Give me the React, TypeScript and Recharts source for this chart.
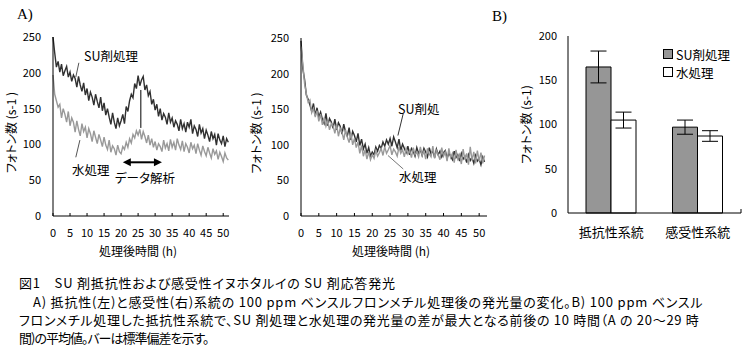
import React from 'react';
import { LineChart, Line, XAxis, YAxis, ReferenceLine, BarChart, Bar, ErrorBar } from 'recharts';

// ---- data ----
const STEP_HOURS = 0.5;
const timeTicks = [0, 5, 10, 15, 20, 25, 30, 35, 40, 45, 50];
const photonTicksA = [0, 50, 100, 150, 200, 250];
const photonTicksB = [0, 50, 100, 150, 200];

// resistant strain (left panel of A), photons per s, every 0.5 h
const resistantSU = [
  250, 228, 208, 216, 201, 212, 196, 203, 209, 194,
  201, 188, 197, 192, 180, 195, 183, 174, 186, 169,
  178, 161, 173, 166, 155, 170, 160, 151, 166, 147,
  158, 141, 150, 138, 128, 144, 131, 122, 137, 126,
  133, 142, 129, 153, 146, 161, 170, 165, 185, 178,
  196, 182, 190, 195, 176, 183, 168, 174, 156, 163,
  148, 156, 139, 150, 134, 143, 138, 128, 144, 131,
  137, 124, 133, 128, 119, 135, 122, 129, 117, 131,
  124, 135, 115, 126, 121, 111, 128, 116, 122, 108,
  120, 113, 104, 118, 108, 114, 99, 115, 106, 101,
  112, 97, 108, 103,
];
const resistantWater = [
  197, 170, 161, 152, 156, 137, 150, 142, 131, 146,
  126, 137, 131, 117, 133, 121, 112, 129, 118, 124,
  109, 122, 115, 104, 119, 110, 101, 114, 106, 97,
  110, 99, 93, 106, 89, 98, 94, 85, 99, 90,
  87, 97, 93, 103, 96, 108, 102, 114, 109, 119,
  113, 121, 107, 118, 111, 102, 113, 99, 108, 96,
  104, 92, 101, 97, 90, 106, 95, 101, 91, 107,
  96, 103, 92, 108, 99, 93, 105, 90, 101, 96,
  88, 103, 94, 99, 87, 101, 92, 85, 98, 90,
  84, 96, 88, 81, 94, 86, 91, 79, 89, 83,
  76, 88, 81, 78,
];
// susceptible strain (right panel of A)
const susceptibleSU = [
  246, 207, 192, 170, 164, 156, 147, 158, 141, 152,
  139, 146, 136, 130, 144, 127, 137, 132, 123, 136,
  121, 131, 126, 115, 129, 118, 112, 124, 107, 119,
  113, 104, 116, 99, 108, 94, 101, 88, 96, 84,
  90, 86, 97, 91, 99, 95, 104, 98, 107, 101,
  109, 98, 111, 104, 96, 108, 92, 101, 95, 89,
  98, 86, 95, 91, 84, 96, 88, 93, 85, 95,
  90, 83, 96, 87, 92, 82, 94, 86, 91, 83,
  89, 92, 81, 88, 84, 79, 91, 82, 86, 77,
  88, 80, 84, 75, 86, 78, 82, 74, 85, 77,
  80, 72, 83, 76,
];
const susceptibleWater = [
  238, 214, 186, 172, 160, 163, 145, 151, 139, 148,
  133, 143, 128, 138, 126, 134, 121, 130, 127, 116,
  129, 112, 123, 118, 107, 121, 111, 103, 116, 100,
  109, 96, 104, 88, 99, 84, 93, 80, 90, 79,
  86, 81, 92, 84, 89, 95, 85, 97, 88, 93,
  99, 86, 94, 90, 84, 97, 88, 93, 83, 95,
  87, 92, 82, 96, 86, 90, 83, 97, 85, 91,
  80, 95, 87, 83, 98, 81, 92, 86, 79, 96,
  84, 90, 77, 95, 82, 88, 75, 93, 80, 86,
  73, 94, 79, 88, 72, 97, 78, 90, 74, 92,
  77, 89, 74, 85,
];

// B) mean of 20-29 h
const strains = ['抵抗性系統', '感受性系統'];
const suMean = [165, 97];
const suSd = [18, 8];
const waterMean = [105, 87];
const waterSd = [9, 6];

const seriesA = ['SU剤処理', '水処理'];

// ---- build tables ----
const buildSeries = (su: number[], water: number[]) =>
  su.map((v, i) => ({ t: i * STEP_HOURS, su: v, water: water[i] }));
const leftData = buildSeries(resistantSU, resistantWater);
const rightData = buildSeries(susceptibleSU, susceptibleWater);
const barData = strains.map((name, i) => ({
  name,
  su: suMean[i],
  suErr: suSd[i],
  water: waterMean[i],
  waterErr: waterSd[i],
}));

// ---- styles ----
const FONT = '"Noto Sans CJK JP", "Noto Sans", sans-serif';
const PALT: React.CSSProperties = { fontFeatureSettings: '"palt"' };
const DARK = '#303030';
const LIGHT = '#999999';
const BAR_GRAY = '#969696';

const tickStyle = { fontSize: 11, fill: '#000', fontFamily: FONT };

const yTitle = (text: string, dx: number, dy: number) => ({
  content: (p: any) => {
    const vb = p.viewBox || {};
    const cx = (vb.x ?? 0) + dx;
    const cy = (vb.y ?? 0) + (vb.height ?? 0) / 2 + dy;
    return (
      <text
        x={cx}
        y={cy}
        transform={`rotate(-90 ${cx} ${cy})`}
        textAnchor="middle"
        dominantBaseline="central"
        style={{ fontSize: 12, fontFamily: FONT, fill: '#000', ...PALT }}
      >
        {text}
      </text>
    );
  },
});

const xTitle = (text: string, dy: number, dx: number) => ({
  content: (p: any) => {
    const vb = p.viewBox || {};
    const cx = (vb.x ?? 0) + (vb.width ?? 0) / 2 + dx;
    const cy = (vb.y ?? 0) + dy;
    return (
      <text
        x={cx}
        y={cy}
        textAnchor="middle"
        dominantBaseline="central"
        style={{ fontSize: 12, fontFamily: FONT, fill: '#000', ...PALT }}
      >
        {text}
      </text>
    );
  },
});

const DoubleArrow = (props: any) => {
  const { x1, y1, x2, y2 } = props;
  if (![x1, y1, x2, y2].every((v) => Number.isFinite(v))) return <g />;
  return (
    <g>
      <line x1={x1 + 6} y1={y1} x2={x2 - 6} y2={y2} stroke="#000" strokeWidth={2} />
      <polygon points={`${x1},${y1} ${x1 + 8},${y1 - 4} ${x1 + 8},${y1 + 4}`} fill="#000" />
      <polygon points={`${x2},${y2} ${x2 - 8},${y2 - 4} ${x2 - 8},${y2 + 4}`} fill="#000" />
    </g>
  );
};

const annoText: React.CSSProperties = {
  position: 'absolute',
  fontFamily: FONT,
  fontSize: 12.5,
  lineHeight: '14px',
  whiteSpace: 'nowrap',
  color: '#000',
  ...PALT,
};

const TimeChart = ({
  data,
  domainMax,
  width,
  yAxisWidth,
  rightMargin,
  top,
  boxed,
  suOnTop,
  titleDx,
  children,
}: any) => {
  const suLine = (
    <Line key="su" type="linear" dataKey="su" name={seriesA[0]} stroke={DARK} strokeWidth={1.4} dot={false} isAnimationActive={false} />
  );
  const waterLine = (
    <Line key="water" type="linear" dataKey="water" name={seriesA[1]} stroke={LIGHT} strokeWidth={1.4} dot={false} isAnimationActive={false} />
  );
  return (
    <LineChart width={width} height={262} data={data} margin={{ top, right: rightMargin, bottom: 6, left: 0 }}>
      <XAxis
        dataKey="t"
        type="number"
        domain={[0, domainMax]}
        ticks={timeTicks}
        interval={0}
        tickSize={-3}
        tickMargin={16}
        height={40}
        stroke="#000"
        tick={tickStyle}
        label={xTitle('処理後時間 (h)', 34, -3)}
      />
      {boxed && (
        <XAxis
          xAxisId="top"
          orientation="top"
          dataKey="t"
          type="number"
          domain={[0, domainMax]}
          tick={false}
          tickLine={false}
          height={0}
          stroke="#808080"
        />
      )}
      <YAxis
        domain={[0, 250]}
        ticks={photonTicksA}
        interval={0}
        tickLine={false}
        tickSize={0}
        tickMargin={12}
        width={yAxisWidth}
        stroke="#000"
        tick={tickStyle}
        label={yTitle('フォトン数 (s-1 )', titleDx, 6)}
      />
      {boxed && (
        <YAxis yAxisId="right" orientation="right" domain={[0, 250]} tick={false} tickLine={false} width={0} stroke="#808080" />
      )}
      {suOnTop ? [waterLine, suLine] : [suLine, waterLine]}
      {children}
    </LineChart>
  );
};

const LegendB = () => (
  <div style={{ position: 'absolute', left: 663, top: 45, fontFamily: FONT, fontSize: 12.5, ...PALT }}>
    {seriesA.map((s, i) => (
      <div key={s} style={{ display: 'flex', alignItems: 'center', height: 18 }}>
        <span
          style={{
            display: 'inline-block',
            width: 8,
            height: 8,
            border: '1px solid #000',
            background: i === 0 ? BAR_GRAY : '#fff',
            marginRight: 3,
          }}
        />
        <span>{s}</span>
      </div>
    ))}
  </div>
);

const captionLine: React.CSSProperties = {
  position: 'absolute',
  fontFamily: FONT,
  fontSize: 13,
  lineHeight: '16px',
  whiteSpace: 'nowrap',
  color: '#000',
  letterSpacing: '0.8px',
  ...PALT,
};

export default function App() {
  return (
    <div style={{ position: 'absolute', left: 0, top: 0, width: 750, height: 358, background: '#fff', overflow: 'hidden' }}>
      {/* A) left: resistant */}
      <div style={{ position: 'absolute', left: 0, top: 0 }}>
        <TimeChart data={leftData} domainMax={51.7} width={240} yAxisWidth={53} rightMargin={11} top={37} boxed suOnTop titleDx={10}>
          <ReferenceLine segment={[{ x: 7.6, y: 214 }, { x: 6.7, y: 194 }]} stroke="#555" strokeWidth={1} />
          <ReferenceLine segment={[{ x: 7.9, y: 106 }, { x: 6.7, y: 82 }]} stroke="#555" strokeWidth={1} />
          <ReferenceLine segment={[{ x: 25.8, y: 176 }, { x: 25.8, y: 123 }]} stroke="#000" strokeWidth={1} />
          <ReferenceLine segment={[{ x: 20.5, y: 75 }, { x: 32, y: 75 }]} shape={DoubleArrow} />
        </TimeChart>
      </div>
      {/* A) right: susceptible */}
      <div style={{ position: 'absolute', left: 240, top: 0 }}>
        <TimeChart data={rightData} domainMax={52.2} width={252} yAxisWidth={61} rightMargin={5} top={38} boxed={false} suOnTop={false} titleDx={15}>
          <ReferenceLine segment={[{ x: 28.7, y: 144 }, { x: 27.2, y: 113 }]} stroke="#333" strokeWidth={1} />
          <ReferenceLine segment={[{ x: 28.7, y: 66 }, { x: 24.4, y: 85 }]} stroke="#777" strokeWidth={1} />
        </TimeChart>
      </div>
      {/* B) */}
      <div style={{ position: 'absolute', left: 480, top: 0 }}>
        <BarChart width={270} height={262} data={barData} margin={{ top: 36, right: 9, bottom: 9, left: 0 }} barCategoryGap={18} barGap={0}>
          <XAxis xAxisId="bound" type="number" domain={[0, 2]} hide />
          <XAxis
            dataKey="name"
            tickLine={false}
            tickSize={0}
            tickMargin={15}
            height={40}
            stroke="#000"
            tick={{ fontSize: 13, fill: '#000', fontFamily: FONT }}
          />
          <XAxis xAxisId="top" orientation="top" dataKey="name" tick={false} tickLine={false} height={0} stroke="#000" />
          <YAxis
            domain={[0, 200]}
            ticks={photonTicksB}
            interval={0}
            tickLine={false}
            tickSize={0}
            tickMargin={11}
            width={88}
            stroke="#000"
            tick={tickStyle}
            label={yTitle('フォトン数 (s-1)', 45, 0)}
          />
          <YAxis yAxisId="right" orientation="right" domain={[0, 200]} tick={false} tickLine={false} width={0} stroke="#000" />
          <Bar dataKey="su" name={seriesA[0]} fill={BAR_GRAY} stroke="#000" strokeWidth={1} isAnimationActive={false}>
            <ErrorBar dataKey="suErr" width={8} stroke="#000" strokeWidth={1} isAnimationActive={false} />
          </Bar>
          <Bar dataKey="water" name={seriesA[1]} fill="#fff" stroke="#000" strokeWidth={1} isAnimationActive={false}>
            <ErrorBar dataKey="waterErr" width={8} stroke="#000" strokeWidth={1} isAnimationActive={false} />
          </Bar>
          <ReferenceLine xAxisId="bound" segment={[{ x: 1, y: 0 }, { x: 1, y: 4.5 }]} stroke="#000" strokeWidth={1} />
        </BarChart>
      </div>
      <LegendB />

      {/* panel labels */}
      <div style={{ position: 'absolute', left: 17, top: 6, fontFamily: '"Liberation Serif", serif', fontSize: 15 }}>A)</div>
      <div style={{ position: 'absolute', left: 492, top: 8, fontFamily: '"Liberation Serif", serif', fontSize: 15 }}>B)</div>

      {/* annotations */}
      <div style={{ ...annoText, left: 84, top: 49 }}>SU剤処理</div>
      <div style={{ ...annoText, left: 72, top: 163 }}>水処理</div>
      <div style={{ ...annoText, left: 115, top: 171 }}>データ解析</div>
      <div style={{ ...annoText, left: 398, top: 102 }}>SU剤処</div>
      <div style={{ ...annoText, left: 399, top: 170 }}>水処理</div>

      {/* caption */}
      <div style={{ ...captionLine, left: 19, top: 275 }}>図1　SU 剤抵抗性および感受性イヌホタルイの SU 剤応答発光</div>
      <div style={{ ...captionLine, left: 33, top: 294 }}>A) 抵抗性(左)と感受性(右)系統の 100 ppm ベンスルフロンメチル処理後の発光量の変化。B) 100 ppm ベンスル</div>
      <div style={{ ...captionLine, left: 19, top: 312, letterSpacing: '0.7px' }}>フロンメチル処理した抵抗性系統で、SU 剤処理と水処理の発光量の差が最大となる前後の 10 時間（A の 20～29 時</div>
      <div style={{ ...captionLine, left: 19, top: 330, letterSpacing: '-1px' }}>間)の平均値。バーは標準偏差を示す。</div>
    </div>
  );
}
